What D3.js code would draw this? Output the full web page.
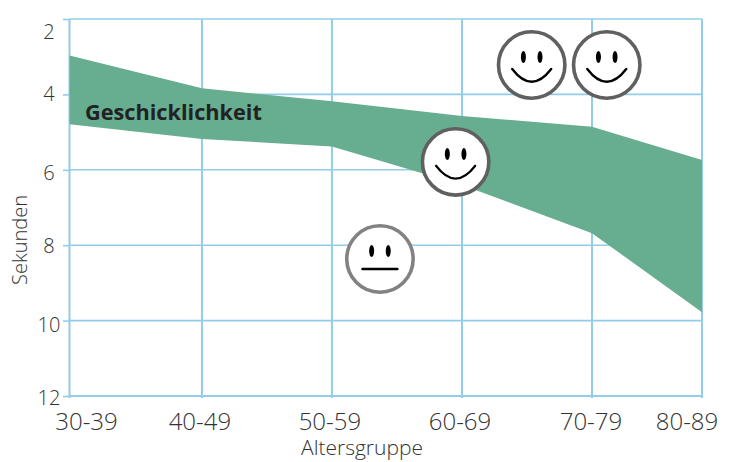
<!DOCTYPE html>
<html>
<head>
<meta charset="utf-8">
<script src="https://cdn.jsdelivr.net/npm/d3@7/dist/d3.min.js"></script>
<style>
  html, body { margin: 0; padding: 0; background: #fff; }
  svg { display: block; }
  text { font-family: "Open Sans", sans-serif; font-weight: 300; fill: #333; }
</style>
</head>
<body>
<svg id="chart" width="733" height="462"></svg>
<script>
// Age groups; the last column of the chart is narrower than the others.
const ageGroups = ["30-39", "40-49", "50-59", "60-69", "70-79", "80-89"];
const columnStops = [0, 1.015, 2.011, 3.008, 4.004, 4.847];
const secondTicks = [2, 4, 6, 8, 10, 12];

// Reaction time band, in seconds.
const bandUpper = [2.97, 3.84, 4.18, 4.57, 4.86, 5.74];
const bandLower = [4.79, 5.18, 5.38, 6.40, 7.68, 9.78];

// Face markers: column position, seconds, and expression.
const faceColumn = [2.379, 2.959, 3.542, 4.117];
const faceSeconds = [8.366, 5.79, 3.22, 3.22];
const faceMood = ["neutral", "happy", "happy", "happy"];

// Hand-set label nudges so the text clears the grid lines.
const tickLabelShiftY = [12, -1.5, 2, 0.5, 3.5, 1];
const ageLabelShiftX = [17, -2, -2, -2, -1, -15];

const gridColor = "#93cce8";
const svg = d3.select("#chart");

const x = d3.scaleLinear().domain([0, 4.847]).range([69.5, 702]);
const y = d3.scaleLinear().domain([2, 12]).range([19, 396]);

// Light grid and axes, drawn beneath the band.
const yAxis = svg.append("g")
  .attr("transform", `translate(${x(0)},0)`)
  .call(d3.axisLeft(y).tickValues(secondTicks).tickSize(6.5).tickPadding(3));
yAxis.select(".domain").remove();
yAxis.selectAll(".tick line").attr("stroke", gridColor).attr("stroke-width", 1.6);
yAxis.selectAll(".tick text")
  .attr("font-size", 20)
  .attr("fill", "#333")
  .attr("text-anchor", "middle")
  .attr("x", -20.5)
  .attr("dy", "0.36em")
  .attr("y", (d, i) => tickLabelShiftY[i]);

svg.append("g").selectAll("line").data(secondTicks).join("line")
  .attr("x1", x(0)).attr("x2", x(4.847))
  .attr("y1", d => y(d)).attr("y2", d => y(d))
  .attr("stroke", gridColor).attr("stroke-width", d => d === 12 ? 2.2 : 1.6);

svg.append("g").selectAll("line").data(columnStops).join("line")
  .attr("x1", d => x(d)).attr("x2", d => x(d))
  .attr("y1", y(2)).attr("y2", y(12) + 2)
  .attr("stroke", gridColor).attr("stroke-width", 2);

// Band between the upper and lower bound.
const band = d3.area()
  .x((d, i) => x(columnStops[i]))
  .y0((d, i) => y(bandLower[i]))
  .y1((d, i) => y(bandUpper[i]));
svg.append("path").datum(ageGroups).attr("d", band).attr("fill", "#67ad90");

// Age labels under each grid column.
svg.append("g").selectAll("text").data(ageGroups).join("text")
  .attr("x", (d, i) => x(columnStops[i]) + ageLabelShiftX[i])
  .attr("y", 430)
  .attr("text-anchor", "middle")
  .attr("font-size", 24)
  .attr("fill", "#333")
  .text(d => d);

svg.append("text")
  .attr("x", 362).attr("y", 455)
  .attr("text-anchor", "middle").attr("font-size", 21).text("Altersgruppe");

svg.append("text")
  .attr("transform", "translate(27,240) rotate(-90)")
  .attr("text-anchor", "middle").attr("font-size", 20).text("Sekunden");

svg.append("text")
  .attr("x", 85).attr("y", 120)
  .attr("font-size", 21.7).style("font-weight", 700).style("fill", "#222")
  .text("Geschicklichkeit");

// Faces: a ring, two eyes, and a mouth that shows the expression.
const radius = 33.2;
const faces = svg.append("g").selectAll("g").data(faceMood).join("g")
  .attr("transform", (d, i) => `translate(${x(faceColumn[i])},${y(faceSeconds[i])})`);

faces.append("circle")
  .attr("r", radius)
  .attr("fill", "#fff")
  .attr("stroke", d => d === "neutral" ? "#828282" : "#606060")
  .attr("stroke-width", 3.6);

[-8.3, 8.3].forEach(dx => {
  faces.append("ellipse")
    .attr("cx", dx).attr("cy", -8).attr("rx", 2.5).attr("ry", 6).attr("fill", "#000");
});

faces.append("path")
  .attr("d", d => d === "neutral"
    ? "M-17.5,10H17.5"
    : "M-19.5,4Q0,29.5 19.5,4")
  .attr("fill", "none").attr("stroke", "#000").attr("stroke-width", 2.4)
  .attr("stroke-linecap", "round");
</script>
</body>
</html>
